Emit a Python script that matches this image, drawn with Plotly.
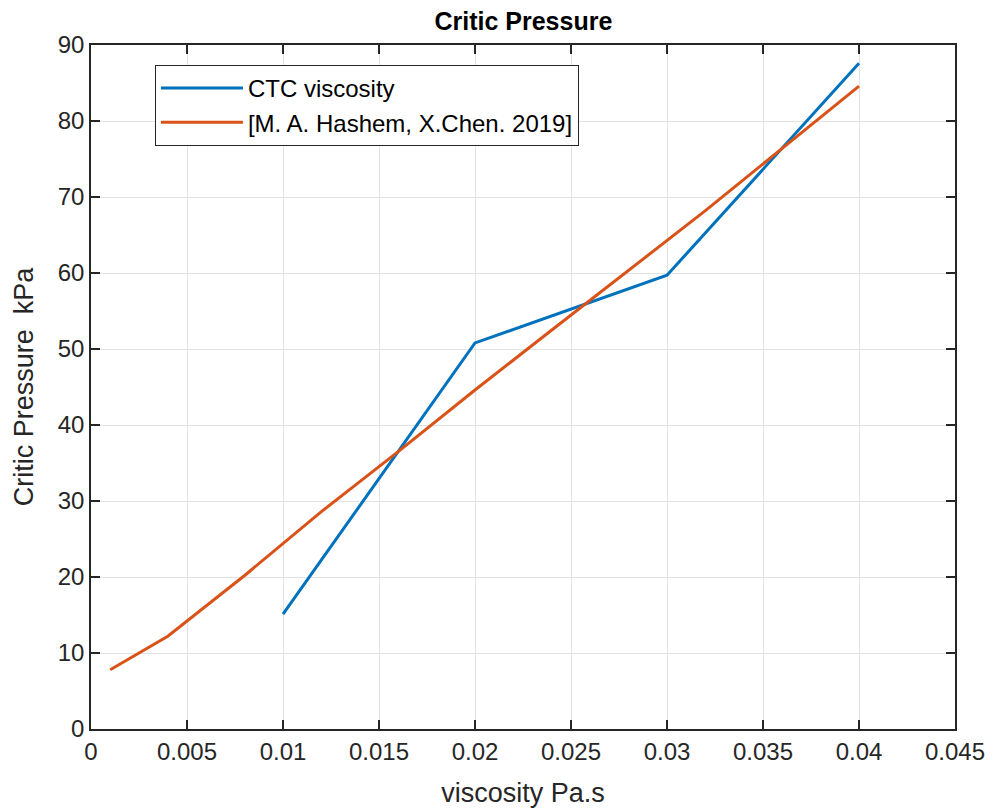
import plotly.graph_objects as go

ctc_x = [0.01, 0.02, 0.03, 0.04]
ctc_y = [15.1, 50.8, 59.7, 87.6]

ref_x = [0.001, 0.004, 0.008, 0.012, 0.016, 0.02, 0.024, 0.028, 0.032, 0.036, 0.04]
ref_y = [7.8, 12.2, 20.2, 28.6, 36.5, 44.6, 52.5, 60.3, 68.2, 76.4, 84.6]

x_ticks = [0, 0.005, 0.01, 0.015, 0.02, 0.025, 0.03, 0.035, 0.04, 0.045]
x_labels = ["0", "0.005", "0.01", "0.015", "0.02", "0.025", "0.03", "0.035", "0.04", "0.045"]
y_ticks = [0, 10, 20, 30, 40, 50, 60, 70, 80, 90]

font = "Liberation Sans, Arial, Helvetica, sans-serif"

fig = go.Figure()
fig.add_trace(go.Scatter(x=ctc_x, y=ctc_y, mode="lines", name="CTC viscosity",
                         line=dict(color="#0072BD", width=3)))
fig.add_trace(go.Scatter(x=ref_x, y=ref_y, mode="lines", name="[M. A. Hashem, X.Chen. 2019]",
                         line=dict(color="#D95319", width=3)))

axis_common = dict(
    showline=True, linecolor="#262626", linewidth=1.5, mirror="ticks",
    ticks="inside", ticklen=9, tickwidth=1.5, tickcolor="#262626",
    showgrid=True, gridcolor="#e3e3e3", gridwidth=1,
    zeroline=False, tickfont=dict(family=font, size=24, color="#262626"),
    automargin=True,
)

fig.update_layout(
    width=993, height=811,
    paper_bgcolor="white", plot_bgcolor="white",
    margin=dict(l=83, r=46, t=37, b=90, autoexpand=False),
    title=dict(text="<b>Critic Pressure</b>", x=0.519, xanchor="center", y=0.984, yanchor="middle",
               font=dict(family=font, size=25, color="black")),
    xaxis=dict(range=[0, 0.045], tickvals=x_ticks, ticktext=x_labels,
               title=dict(text="viscosity Pa.s", font=dict(family=font, size=27, color="#262626"), standoff=20),
               **axis_common),
    yaxis=dict(range=[0, 90], tickvals=y_ticks,
               title=dict(text="Critic Pressure  kPa", font=dict(family=font, size=27, color="#262626"), standoff=16),
               **axis_common),
    legend=dict(x=0.074, y=0.971, xanchor="left", yanchor="top",
                bgcolor="white", bordercolor="#262626", borderwidth=1,
                font=dict(family=font, size=24, color="black"),
                tracegroupgap=0, itemwidth=82),
    showlegend=True,
)

fig.write_html("out.html")
